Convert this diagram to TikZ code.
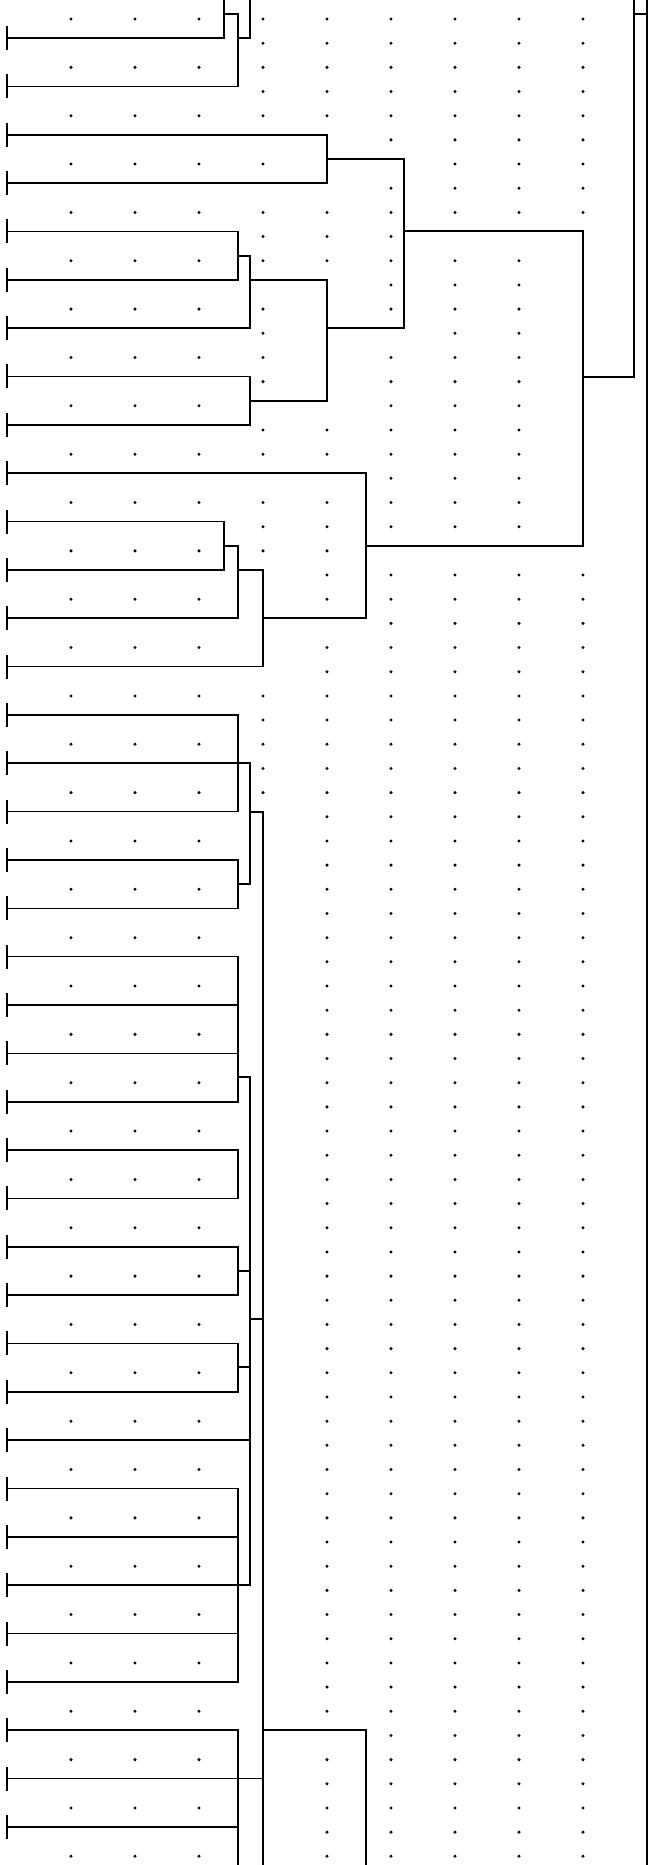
\documentclass[tikz,border=0pt]{standalone}
\usetikzlibrary{calc}

\begin{document}
\begin{tikzpicture}[
  x=0.2mm, y=-0.2mm,
  link/.style     = {draw=black, line width=0.32mm},
  halo/.style     = {draw=white, line width=3.2mm, line cap=round},
  leaftick/.style = {draw=black, line width=0.45mm},
  griddot/.style  = {fill=black},
]
\useasboundingbox (0,0) rectangle (651,1865);
\clip (0,0) rectangle (651,1865);

% ---- dot grid ---------------------------------------------------------------
\foreach \i in {0,...,8}
  \foreach \j in {0,...,76}
    \fill[griddot] (71+64*\i, 19+24.175*\j) circle[radius=0.33mm];

% ---- leaves -----------------------------------------------------------------
\foreach \k in {0,...,37}
  \coordinate (l\k) at (7, 38+48.35*\k);

% ---- join points ------------------------------------------------------------
\coordinate (j01)   at (238,14);
\coordinate (j23)   at (327,159);
\coordinate (j45)   at (238,256);
\coordinate (j46)   at (250,280);
\coordinate (j78)   at (250,401);
\coordinate (j48)   at (327,328);
\coordinate (j28)   at (404,231);
\coordinate (j1011) at (224,546);
\coordinate (j1012) at (238,570);
\coordinate (j1013) at (263,618);
\coordinate (j913)  at (366,546);
\coordinate (j213)  at (583,377);
\coordinate (j1416) at (238,763);
\coordinate (j1718) at (238,884);
\coordinate (j1418) at (250,812);
\coordinate (j1922) at (238,1077);
\coordinate (j2324) at (238,1174);
\coordinate (j2526) at (238,1271);
\coordinate (j2728) at (238,1367);
\coordinate (j3034) at (238,1585);
\coordinate (j1932) at (250,1319);
\coordinate (j1437) at (263,1730);

% ---- tree: white halo first, then the black lines ---------------------------
\foreach \pass in {halo, link} {
  % top stub (leaves 0-1)
  \draw[\pass] (l0) -| (224,-10);
  \draw[\pass] (l1) -| (j01) -- (224,14);
  \draw[\pass] (l0 -| j01) -| (250,-10);

  % leaves 2-8
  \draw[\pass] (l2) -| (j23) |- (l3);
  \draw[\pass] (l4) -| (j45) |- (l5);
  \draw[\pass] (j45) -| (j46) |- (l6);
  \draw[\pass] (l7) -| (j78) |- (l8);
  \draw[\pass] (j46) -| (j48) |- (j78);
  \draw[\pass] (j23) -| (j28) |- (j48);

  % leaves 9-13
  \draw[\pass] (l10) -| (j1011) |- (l11);
  \draw[\pass] (j1011) -| (j1012) |- (l12);
  \draw[\pass] (j1012) -| (j1013) |- (l13);
  \draw[\pass] (l9) -| (j913) |- (j1013);

  % right side
  \draw[\pass] (j28) -| (j213) |- (j913);
  \draw[\pass] (j213) -| (634,-10);
  \draw[\pass] (634,14) -- (647,14);
  \draw[\pass] (647,-10) -- (647,1875);

  % leaves 14-18
  \draw[\pass] (l14) -| (j1416) |- (l16);
  \draw[\pass] (l17) -| (j1718) |- (l18);
  \draw[\pass] (l15) -| (j1418) |- (j1718);
  \draw[\pass] (j1418) -| (263,1875);

  % leaves 19-34
  \draw[\pass] (l19) -| (j1922) |- (l22);
  \draw[\pass] (l20) -- (l20 -| j1922);
  \draw[\pass] (l21) -- (l21 -| j1922);
  \draw[\pass] (l23) -| (j2324) |- (l24);
  \draw[\pass] (l25) -| (j2526) |- (l26);
  \draw[\pass] (l27) -| (j2728) |- (l28);
  \draw[\pass] (l30) -| (j3034) |- (l34);
  \draw[\pass] (l31) -- (l31 -| j3034);
  \draw[\pass] (l33) -- (l33 -| j3034);
  \draw[\pass] (j1922) -| (j1932) |- (l32);
  \draw[\pass] (j2526) -- (j2526 -| j1932);
  \draw[\pass] (j2728) -- (j2728 -| j1932);
  \draw[\pass] (l29) -- (l29 -| j1932);
  \draw[\pass] (j1932) -- (j1932 -| j1437);

  % leaves 35-37
  \draw[\pass] (l35) -| (238,1875);
  \draw[\pass] (l36) -- (l36 -| j1437);
  \draw[\pass] (l37) -- (l37 -| j3034);
  \draw[\pass] (j1437) -| (366,1875);
}

% ---- leaf ticks -------------------------------------------------------------
\foreach \k in {0,...,37}
  \draw[leaftick] (l\k) ++(0,-12) -- ++(0,24);

\end{tikzpicture}
\end{document}
